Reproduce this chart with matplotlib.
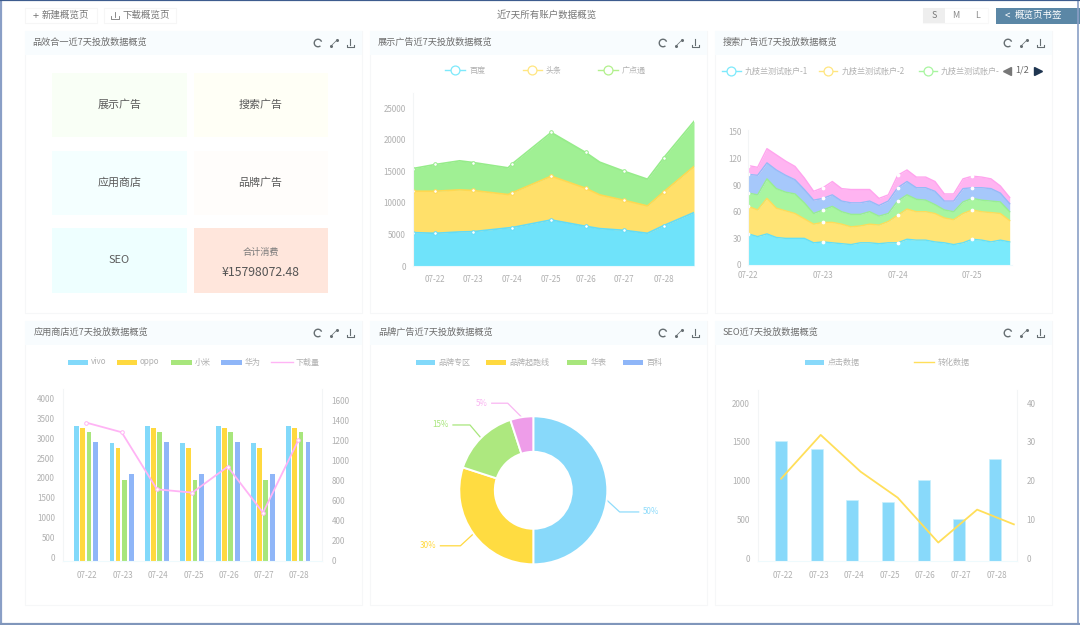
import numpy as np
import matplotlib
matplotlib.use("Agg")
import matplotlib.pyplot as plt
from matplotlib.patches import Rectangle, Arc

plt.rcParams['font.family'] = ['Noto Sans CJK SC', 'DejaVu Sans']

W, H = 1080, 625
GREY = "#b0b0b0"
TITLE = "#6e6e6e"

days = ["07-22", "07-23", "07-24", "07-25", "07-26", "07-27", "07-28"]

# display ads, per series (x is in days from 07-22)
display_x = [-0.57, 0.02, 0.66, 1.02, 1.94, 2.04, 3.08, 3.99, 4.36, 5.0, 5.62, 6.05, 6.85]
display_baidu = [5285, 5180, 5390, 5440, 6030, 6080, 7290, 6290, 5920, 5650, 5180, 6400, 8460]
display_toutiao = [6555, 6660, 6660, 6510, 5280, 5490, 6930, 6020, 5340, 4760, 4330, 5330, 7290]
display_gdt = [3590, 4230, 4600, 4430, 4230, 4550, 6920, 5660, 5180, 4600, 4230, 5390, 7140]
display_marks = [0, 1, 3, 5, 6, 7, 9, 11]
display_ticks = [0, 1.02, 2.04, 3.07, 3.99, 5.0, 6.05]

# search ads, stacked tops of the five accounts
search_top1 = [35, 32, 35, 31, 30, 30, 30, 25, 26, 25, 24, 23, 25, 25, 24, 25, 25, 29, 28, 28, 26, 25, 23, 25, 29, 28, 26, 28, 26]
search_top2 = [66, 62, 75, 64, 61, 58, 52, 46, 48, 48, 46, 43, 44, 46, 45, 49, 56, 63, 60, 60, 58, 53, 51, 58, 62, 60, 59, 58, 50]
search_top3 = [81, 79, 97, 86, 82, 80, 70, 58, 62, 66, 60, 57, 57, 60, 55, 58, 72, 79, 74, 73, 68, 62, 60, 71, 75, 73, 72, 71, 60]
search_top4 = [102, 101, 115, 107, 101, 96, 85, 73, 75, 79, 72, 70, 70, 72, 67, 72, 87, 94, 87, 87, 83, 72, 72, 86, 87, 87, 86, 81, 69]
search_top5 = [112, 110, 131, 124, 117, 111, 98, 83, 87, 94, 86, 85, 85, 85, 75, 79, 101, 107, 99, 99, 94, 80, 80, 97, 100, 99, 97, 89, 76]
search_days = ["07-22", "07-23", "07-24", "07-25"]

# app store
app_vivo = [3300, 2880, 3300, 2880, 3300, 2880, 3300]
app_oppo = [3260, 2750, 3260, 2750, 3260, 2750, 3260]
app_mi = [3170, 1950, 3170, 1950, 3170, 1950, 3170]
app_huawei = [2910, 2090, 2910, 2090, 2910, 2090, 2910]
app_downloads = [1376, 1280, 708, 675, 935, 474, 1200]

# brand
brand_names = ["品牌专区", "品牌起跑线", "华表", "百科"]
brand_share = [50, 30, 15, 5]

# SEO
seo_clicks = [1510, 1402, 744, 718, 1006, 499, 1277]
seo_conv = [20.5, 31.8, 22.3, 15.6, 4.0, 12.5, 8.7]
seo_conv_x = [0.0, 1.11, 2.23, 3.27, 4.41, 5.5, 6.53]

fig = plt.figure(figsize=(W / 100, H / 100), dpi=100, facecolor="white")

# page furniture lives on one big axes in pixel coords
page = fig.add_axes([0, 0, 1, 1], zorder=0)
page.set_xlim(0, W)
page.set_ylim(H, 0)
page.axis("off")


def px_axes(left, right, top, bottom):
    ax = fig.add_axes([left / W, 1 - bottom / H, (right - left) / W, (bottom - top) / H], zorder=2)
    ax.patch.set_alpha(0)
    for s in ax.spines.values():
        s.set_visible(False)
    ax.tick_params(length=0, labelsize=5.8, labelcolor=GREY)
    return ax


def faint_axes(ax, right=False):
    ax.spines["left"].set_visible(True)
    ax.spines["left"].set_color("#f3f5f6")
    ax.spines["bottom"].set_visible(True)
    ax.spines["bottom"].set_color("#eefafd")
    if right:
        ax.spines["right"].set_visible(True)
        ax.spines["right"].set_color("#f3f5f6")


def box(x0, y0, x1, y1, fc, ec="none", lw=0.8):
    page.add_patch(Rectangle((x0, y0), x1 - x0, y1 - y0, fc=fc, ec=ec, lw=lw))


def label(x, y, s, size=5.8, color=GREY, ha="left"):
    page.text(x, y, s, fontsize=size, color=color, ha=ha, va="center")


def icons(right, cy):
    c = "#666e72"
    page.add_patch(Arc((right - 44, cy), 7.5, 7.5, theta1=50, theta2=340, color=c, lw=1))
    page.plot([right - 31, right - 25], [cy + 3, cy - 3], color=c, lw=0.5)
    page.plot([right - 31, right - 25], [cy + 3, cy - 3], ls="none", marker="o", ms=1.2, color=c)
    page.plot([right - 12, right - 12], [cy - 4, cy + 1.5], color=c, lw=0.8)
    page.plot([right - 15.5, right - 15.5, right - 8.5, right - 8.5], [cy + 1.5, cy + 3.5, cy + 3.5, cy + 1.5], color=c, lw=0.8)


def line_key(x0, x1, y, color, circle=True):
    page.plot([x0, x1], [y, y], color=color, lw=1)
    if circle:
        page.plot([(x0 + x1) / 2], [y], marker="o", ms=6.4, mfc="white", mec=color, mew=0.9)


def bar_key(x0, x1, y, color):
    box(x0, y - 2.5, x1, y + 2.5, color)


# outer frame
page.plot([0.5, 0.5], [0, H], color="#8a9fc6", lw=1.6)
page.plot([1077.5, 1077.5], [0, H], color="#8a9fc6", lw=1.2)
page.plot([0, W], [0.3, 0.3], color="#3d5c8e", lw=1.6)
page.plot([0, W], [624, 624], color="#8096bb", lw=1.6)

# top bar
box(25, 8, 96.5, 23, "white", "#f6f6f6")
box(103.5, 8, 176, 23, "white", "#f6f6f6")
label(35.5, 15.5, "+", 8, "#777777", "center")
label(42, 15.5, "新建概览页", 6.8, "#777777")
page.plot([115, 115], [11.5, 17], color="#777777", lw=0.6)
page.plot([111, 111, 119, 119], [16, 19, 19, 16], color="#777777", lw=0.6)
label(122.5, 15.5, "下载概览页", 6.8, "#777777")
label(547, 15.5, "近7天所有账户数据概览", 6.8, "#777777", "center")
box(923, 8, 988, 23, "white", "#f8f8f8")
box(923, 8, 945, 23, "#eeeeee")
label(934, 15.5, "S", 6.4, "#777777", "center")
label(955.5, 15.5, "M", 6.4, "#8a8a8a", "center")
label(977, 15.5, "L", 6.4, "#8a8a8a", "center")
box(996, 7.5, 1080, 23.5, "#5b87a6")
label(1005, 15.5, "<", 7, "white")
label(1014.5, 15.5, "概览页书签", 6.8, "white")

# the six cards
cards = [
    (25, 362, 31, 313, "品效合一近7天投放数据概览", 32),
    (370, 707, 31, 313, "展示广告近7天投放数据概览", 377.5),
    (715, 1052, 31, 313, "搜索广告近7天投放数据概览", 723),
    (25, 362, 321, 605, "应用商店近7天投放数据概览", 34),
    (370, 707, 321, 605, "品牌广告近7天投放数据概览", 378),
    (715, 1052, 321, 605, "SEO近7天投放数据概览", 723),
]
for x0, x1, y0, y1, title, tx in cards:
    box(x0, y0, x1, y1, "white", "#f6f7f8")
    box(x0, y0, x1, y0 + 24, "#f8fcfe")
    label(tx, y0 + 11.5, title, 6.6, TITLE)
    icons(x1, y0 + 12)

# card 1 tiles
tiles = [
    (52, 186.5, 73, 137, "#f9fff6", "展示广告"),
    (193.5, 327.5, 73, 137, "#fffff6", "搜索广告"),
    (52, 186.5, 151, 215, "#f4ffff", "应用商店"),
    (193.5, 327.5, 151, 215, "#fffdfb", "品牌广告"),
    (52, 186.5, 228, 293, "#eeffff", "SEO"),
]
for x0, x1, y0, y1, fc, s in tiles:
    box(x0, y0, x1, y1, fc)
    label((x0 + x1) / 2, (y0 + y1) / 2 - 0.5, s, 7.9, "#5a5a5a", "center")
box(193.5, 228, 327.5, 293, "#ffe6dc")
label(260.5, 252, "合计消费", 6.6, "#7a7a7a", "center")
label(260.5, 272, "¥15798072.48", 8.8, "#555555", "center")

# card 2, stacked areas
ax2 = px_axes(413, 694, 93, 266)
tops = np.cumsum([display_baidu, display_toutiao, display_gdt], axis=0)
base = np.zeros(len(display_x))
for top, fc, lc in zip(tops, ["#6fe3fa", "#ffe06a", "#a0f094"], ["#62dcf6", "#ffd850", "#96ec8a"]):
    ax2.fill_between(display_x, base, top, color=fc, lw=0)
    ax2.plot(display_x, top, color=lc, lw=1.2)
    ax2.plot(np.array(display_x)[display_marks], top[display_marks], ls="none", marker="o", ms=2.6,
             mfc="white", mec=lc, mew=0.7)
    base = top
ax2.set_xlim(-0.57, 6.85)
ax2.set_ylim(0, 27380)
ax2.set_xticks(display_ticks, days)
ax2.set_yticks(range(0, 25001, 5000))
faint_axes(ax2)
ax2.tick_params(axis="x", pad=6.5)
ax2.tick_params(axis="y", pad=5)

for x0, x1, color, s in [(445.3, 465.3, "#7de9fb", "百度"), (522.7, 542, "#ffe680", "头条"), (598.3, 618.3, "#b2f08c", "广点通")]:
    line_key(x0, x1, 70, color)
    label(x1 + 3.7, 70, s)

# card 3, stacked areas again
ax3 = px_axes(748.3, 1011.7, 130, 265)
search_x = np.arange(len(search_top1)) / 8
base = np.zeros(len(search_x))
search_fill = ["#7aeafc", "#ffe475", "#a8f5a0", "#a6c8fb", "#ffb4f1"]
search_line = ["#62e0f8", "#ffdc58", "#98ee90", "#94bbf8", "#ffa4ee"]
for top, fc, lc in zip([search_top1, search_top2, search_top3, search_top4, search_top5], search_fill, search_line):
    top = np.array(top)
    ax3.fill_between(search_x, base, top, color=fc, lw=0)
    ax3.plot(search_x, top, color=lc, lw=1)
    ax3.plot(search_x[::8], top[::8], ls="none", marker="o", ms=1.7, mfc="white", mec="white")
    base = top
ax3.set_xlim(0, 3.527)
ax3.set_ylim(0, 152)
ax3.set_xticks(range(4), search_days)
ax3.set_yticks(range(0, 151, 30))
faint_axes(ax3)
ax3.tick_params(axis="x", pad=4.5)
ax3.tick_params(axis="y", pad=5)

line_key(721.7, 741, 71, "#7de9fb")
label(744.5, 71, "九枝兰测试账户-1")
line_key(818.6, 837, 71, "#ffe680")
label(841.7, 71, "九枝兰测试账户-2")
line_key(918.6, 936.5, 71, "#a8f5a0")
label(941, 71, "九枝兰测试账户-")
page.plot([1007], [70.5], marker="<", ms=6, color="#777777")
label(1015, 70.5, "1/2", 6.6, "#666666")
page.plot([1037.5], [70.5], marker=">", ms=6, color="#1f3550")

# card 4, grouped bars with a line on the right axis
ax4 = px_axes(63.3, 321.7, 389.3, 560.7)
app_colors = ["#82d9fa", "#ffd93f", "#a8e67c", "#8fb6f8"]
app_offsets = [-0.27, -0.10, 0.075, 0.27]
lo4 = -84
for vals, off, color in zip([app_vivo, app_oppo, app_mi, app_huawei], app_offsets, app_colors):
    ax4.bar(np.arange(7) + off, np.array(vals) - lo4, bottom=lo4, width=0.135, color=color)
ax4.set_xlim(-0.65, 6.66)
ax4.set_ylim(lo4, 4235)
ax4.set_xticks(np.arange(7) + 0.03, days)
ax4.set_yticks(range(0, 4001, 500))
faint_axes(ax4, right=True)
ax4.tick_params(axis="x", pad=7.5)
ax4.tick_params(axis="y", pad=6)

ax4r = ax4.twinx()
ax4r.patch.set_alpha(0)
for s in ax4r.spines.values():
    s.set_visible(False)
ax4r.plot(range(7), app_downloads, color="#ffb4f5", lw=1.3, marker="o", ms=2.6, mfc="white", mec="#ffb4f5", mew=0.7)
ax4r.set_ylim(-7, 1710)
ax4r.set_yticks(range(0, 1601, 200))
ax4r.tick_params(length=0, labelsize=5.8, labelcolor=GREY, pad=7)

for x0, x1, color, s in [(67.7, 87.7, app_colors[0], "vivo"), (117, 137, app_colors[1], "oppo"),
                         (171, 192, app_colors[2], "小米"), (221, 241.7, app_colors[3], "华为")]:
    bar_key(x0, x1, 362, color)
    label(x1 + 3, 362, s)
line_key(270.7, 292.7, 362, "#ffb4f5", circle=False)
label(296, 362, "下载量")

# card 5, donut
cx, cy, r = 533.3, 490.3, 74
ax5 = px_axes(cx - 100, cx + 100, cy - 100, cy + 100)
ax5.pie(brand_share, startangle=90, counterclock=False, colors=["#88d9fa", "#ffdc41", "#ade87f", "#ee9de9"],
        wedgeprops=dict(width=0.48, edgecolor="white", linewidth=1.4))
ax5.set_xlim(-100 / r, 100 / r)
ax5.set_ylim(-100 / r, 100 / r)

leader_colors = ["#8fdcfb", "#ffd93f", "#a8e67c", "#fab6f2"]
leader_elbow = [(13, 12, 19), (-13, 12, -20), (-11, -13, -17), (-14, -14, -16)]
leader_nudge = [-7.5, 0, 0, 0]
shares = np.array(brand_share, dtype=float)
mids = 90 - (np.cumsum(shares) - shares / 2) * 3.6
for mid, nudge, (dx, dy, run), color, share in zip(mids, leader_nudge, leader_elbow, leader_colors, brand_share):
    a = np.radians(mid + nudge)
    sx, sy = cx + r * np.cos(a), cy - r * np.sin(a)
    page.plot([sx, sx + dx, sx + dx + run], [sy, sy + dy, sy + dy], color=color, lw=0.9)
    ex = sx + dx + run + (4 if run > 0 else -4)
    label(ex, sy + dy, f"{share}%", 5.8, color, "left" if run > 0 else "right")

for x0, x1, color, s in zip([415.7, 486, 566.7, 623.3], [435, 505.7, 587.3, 643.3], app_colors, brand_names):
    bar_key(x0, x1, 362, color)
    label(x1 + 3.3, 362, s)

# card 6, bars and a line
ax6 = px_axes(758.3, 1016.7, 390, 560.7)
lo6 = -34
ax6.bar(range(7), np.array(seo_clicks) - lo6, bottom=lo6, width=0.336, color="#88d9fa", ec="#c8f0fd", lw=0.5)
ax6.set_xlim(-0.64, 6.61)
ax6.set_ylim(lo6, 2168)
ax6.set_xticks(np.arange(7) + 0.05, days)
ax6.set_yticks(range(0, 2001, 500))
faint_axes(ax6, right=True)
ax6.tick_params(axis="x", pad=7.5)
ax6.tick_params(axis="y", pad=6)

ax6r = ax6.twinx()
ax6r.patch.set_alpha(0)
for s in ax6r.spines.values():
    s.set_visible(False)
ax6r.plot(seo_conv_x, seo_conv, color="#ffdf5a", lw=1.3)
ax6r.set_ylim(-0.69, 43.4)
ax6r.set_yticks(range(0, 41, 10))
ax6r.tick_params(length=0, labelsize=5.8, labelcolor=GREY, pad=7)

bar_key(805, 824, 362, "#88d9fa")
label(827.7, 362, "点击数据")
line_key(913.7, 934, 362, "#ffdf5a", circle=False)
label(937.7, 362, "转化数据")

fig.savefig("out.png", dpi=100)
